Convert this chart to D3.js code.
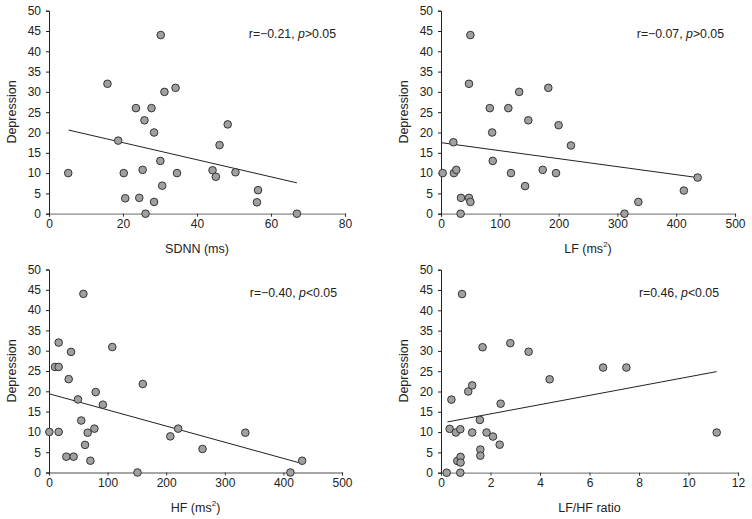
<!DOCTYPE html>
<html>
<head>
<meta charset="utf-8">
<script src="https://cdn.jsdelivr.net/npm/d3@7"></script>
<style>
  body { margin: 0; background: #fff; }
  text { font-family: "Liberation Sans", Arial, sans-serif; fill: #222; font-weight: 400; }
</style>
</head>
<body>
<div id="chart"></div>
<script>
// Depression score, same patients in every panel (order differs per panel as read)
const sdnnX = [5.2, 15.8, 18.7, 20.2, 20.6, 23.5, 24.4, 25.3, 25.8, 26.1, 27.7, 28.4, 28.4, 30.2, 30.1, 30.6, 31.2, 34.2, 34.6, 44.2, 45.1, 46.1, 48.3, 50.4, 56.5, 56.2, 67];
const sdnnY = [10, 32, 18, 10, 3.8, 26, 3.9, 10.8, 23, 0, 26, 20, 2.9, 44, 13, 6.9, 30, 31, 10, 10.7, 9.1, 16.9, 22, 10.2, 5.8, 2.8, 0];

const lfX = [2.8, 21, 22, 26, 34, 33.4, 47.6, 50, 47.6, 50, 83, 87, 88, 114.5, 119, 133, 143, 148.5, 173, 182.5, 195.6, 200, 221, 312, 335.6, 413, 436.5];
const lfY = [10, 17.6, 10, 10.8, 3.9, 0, 3.9, 2.9, 32, 44, 26, 20, 13, 26, 10, 30, 6.8, 23, 10.8, 31, 10, 21.8, 16.8, 0, 2.9, 5.7, 8.9];

const hfX = [0.6, 10.3, 16.5, 16.5, 16.5, 29.6, 33.6, 37.6, 42, 49.5, 55, 58.7, 61.5, 66, 70.6, 77.5, 79.7, 92, 108, 151, 160, 207, 220.4, 262, 335, 412, 432];
const hfY = [10, 26, 26, 32, 10, 3.9, 23, 29.7, 3.9, 18, 12.8, 44, 6.8, 9.8, 2.9, 10.8, 19.8, 16.7, 30.9, 0, 21.8, 8.9, 10.8, 5.8, 9.8, 0, 2.9];

const ratioX = [0.23, 0.35, 0.42, 0.6, 0.66, 0.78, 0.79, 0.79, 0.78, 0.85, 1.1, 1.26, 1.26, 1.57, 1.59, 1.59, 1.68, 1.84, 2.1, 2.37, 2.41, 2.8, 3.54, 4.39, 6.55, 7.49, 11.14];
const ratioY = [0, 10.8, 18, 9.9, 2.9, 10.7, 3.9, 2.5, 0, 44, 20, 21.5, 9.9, 13, 5.7, 4.2, 30.9, 9.9, 8.9, 6.9, 17, 31.9, 29.8, 23, 25.9, 25.9, 9.9];

// fitted line end points as drawn in the figure: [x0, y0, x1, y1]
const sdnnFit = [5.3, 20.6, 67, 7.6];
const lfFit = [0, 17.5, 436.5, 8.9];
const hfFit = [0, 19.4, 432, 2.2];
const ratioFit = [0.26, 12.5, 11.14, 24.9];

const yTicks = [0, 5, 10, 15, 20, 25, 30, 35, 40, 45, 50];

const panels = [
  {xs: sdnnX, ys: sdnnY, fit: sdnnFit, xmax: 80, xticks: [0, 20, 40, 60, 80],
   label: "SDNN (ms)", sup: null, r: "r=\u22120.21, ", p: ">0.05",
   left: 49, top: 10.7, w: 296, stat: 336},
  {xs: lfX, ys: lfY, fit: lfFit, xmax: 500, xticks: [0, 100, 200, 300, 400, 500],
   label: "LF (ms", sup: "2", r: "r=\u22120.07, ", p: ">0.05",
   left: 441, top: 10.7, w: 294, stat: 724},
  {xs: hfX, ys: hfY, fit: hfFit, xmax: 500, xticks: [0, 100, 200, 300, 400, 500],
   label: "HF (ms", sup: "2", r: "r=\u22120.40, ", p: "<0.05",
   left: 49, top: 269.5, w: 293, stat: 337},
  {xs: ratioX, ys: ratioY, fit: ratioFit, xmax: 12, xticks: [0, 2, 4, 6, 8, 10, 12],
   label: "LF/HF ratio", sup: null, r: "r=0.46, ", p: "<0.05",
   left: 441, top: 269.7, w: 297, stat: 719}
];

const svg = d3.select("#chart").append("svg")
  .attr("width", 752)
  .attr("height", 519);

const plotH = 203;

panels.forEach(pn => {
  let x = d3.scaleLinear().domain([0, pn.xmax]).range([0, pn.w]);
  let y = d3.scaleLinear().domain([0, 50]).range([plotH, 0]);

  let g = svg.append("g")
    .attr("transform", `translate(${pn.left}, ${pn.top})`);

  // x axis (grey line, small ticks)
  let xa = g.append("g")
    .attr("transform", `translate(0, ${plotH})`)
    .call(d3.axisBottom(x).tickValues(pn.xticks).tickSize(3).tickPadding(3).tickFormat(d3.format("d")));
  xa.select(".domain").attr("stroke", "#888").attr("stroke-width", 1.3);
  xa.selectAll(".tick line").attr("stroke", "#333");
  xa.selectAll("text").attr("font-size", 12).style("font-family", "Liberation Sans, Arial, sans-serif").attr("fill", "#222");

  // y axis
  let ya = g.append("g")
    .call(d3.axisLeft(y).tickValues(yTicks).tickSize(3).tickPadding(5));
  ya.select(".domain").attr("stroke", "#222");
  ya.selectAll(".tick line").attr("stroke", "#222");
  ya.selectAll("text").attr("font-size", 12).style("font-family", "Liberation Sans, Arial, sans-serif").attr("fill", "#222");

  // fitted line
  g.append("line")
    .attr("x1", x(pn.fit[0])).attr("y1", y(pn.fit[1]))
    .attr("x2", x(pn.fit[2])).attr("y2", y(pn.fit[3]))
    .attr("stroke", "#222").attr("stroke-width", 1);

  // points
  g.selectAll("circle")
    .data(pn.xs.map((d, i) => [d, pn.ys[i]]))
    .enter().append("circle")
    .attr("cx", d => x(d[0]))
    .attr("cy", d => y(d[1]))
    .attr("r", 3.8)
    .attr("fill", "#a0a0a0")
    .attr("stroke", "#333")
    .attr("stroke-width", 1);

  // axis titles
  let xl = g.append("text")
    .attr("x", pn.w / 2)
    .attr("y", plotH + 39)
    .attr("text-anchor", "middle")
    .attr("font-size", 12.5)
    .text(pn.label);
  if (pn.sup) {
    xl.append("tspan").attr("font-size", 8).attr("dy", -6).text(pn.sup);
    xl.append("tspan").attr("dy", 6).text(")");
  }

  // y title, placed in page coordinates so it sits at a whole pixel
  svg.append("text")
    .attr("transform", `translate(${pn.left - 33}, ${Math.round(pn.top + plotH / 2)}) rotate(-90)`)
    .attr("text-anchor", "middle")
    .attr("font-size", 12.5)
    .attr("font-weight", 400)
    .attr("fill", "#333")
    .text("Depression");

  // correlation note
  let st = g.append("text")
    .attr("x", pn.stat - pn.left)
    .attr("y", 27.5)
    .attr("text-anchor", "end")
    .attr("font-size", 12.3)
    .text(pn.r);
  st.append("tspan").attr("font-style", "italic").text("p");
  st.append("tspan").text(pn.p);
});
</script>
</body>
</html>
